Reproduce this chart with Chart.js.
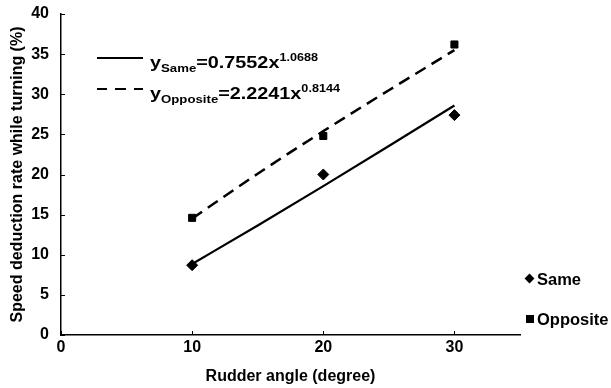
<!DOCTYPE html>
<html>
<head>
<meta charset="utf-8">
<script src="https://cdn.jsdelivr.net/npm/chart.js@4"></script>
<style>
  html,body{margin:0;padding:0;background:#fff;}
  #wrap{position:relative;width:611px;height:388px;font-family:"Liberation Sans",Arial,sans-serif;font-weight:bold;color:#000;}
  canvas{position:absolute;left:0;top:0;}
  .eq{position:absolute;font-size:16.5px;line-height:16px;white-space:nowrap;transform:scale(1.2,1);transform-origin:0 0;}
  .eq sub{font-size:11px;vertical-align:-4px;}
  .eq sup{font-size:10.5px;vertical-align:7px;}
  .ls{position:absolute;width:46px;height:0;}
  .lg{position:absolute;font-size:16.5px;line-height:16px;white-space:nowrap;}
  .mk{position:absolute;background:#000;}
</style>
</head>
<body>
<div id="wrap">
  <canvas id="c" width="611" height="388"></canvas>
  <div class="ls" style="left:97px;top:57px;border-top:2px solid #000;"></div>
  <div class="eq" style="left:150px;top:49px;">y<sub>Same</sub>=0.7552x<sup>1.0688</sup></div>
  <div class="ls" style="left:97px;top:88px;border-top:2px dashed #000;border-image:repeating-linear-gradient(to right,#000 0 11px,transparent 11px 18px) 1;"></div>
  <div class="eq" style="left:150px;top:80px;">y<sub>Opposite</sub>=2.2241x<sup>0.8144</sup></div>
  <div class="mk" style="left:526px;top:275px;width:7px;height:7px;transform:rotate(45deg);"></div>
  <div class="lg" style="left:537px;top:271px;">Same</div>
  <div class="mk" style="left:526px;top:315px;width:8px;height:8px;"></div>
  <div class="lg" style="left:537px;top:311px;">Opposite</div>
</div>
<script>
const rudderAngle = [10, 20, 30];
const sameValues = [8.7, 20.0, 27.4];
const oppositeValues = [14.6, 24.8, 36.2];
const fitX = [10, 15, 20, 25, 30];
const sameFit = [8.85, 13.65, 18.55, 23.55, 28.6];
const oppositeFit = [14.5, 20.1, 25.4, 30.5, 35.5];
const xTicks = [0, 10, 20, 30];
const yTicks = [0, 5, 10, 15, 20, 25, 30, 35, 40];

const pts = (xs, ys) => xs.map((x, i) => ({x: x, y: ys[i]}));
const font = {family: '"Liberation Sans", Arial, sans-serif', weight: 'bold', size: 16};

const innerTicks = {
  id: 'innerTicks',
  afterDraw(chart) {
    const ctx = chart.ctx, xs = chart.scales.x, ys = chart.scales.y;
    ctx.save();
    ctx.strokeStyle = '#000';
    ctx.lineWidth = 1;
    xTicks.forEach(v => {
      const px = Math.round(xs.getPixelForValue(v)) + 0.5;
      ctx.beginPath(); ctx.moveTo(px, ys.bottom); ctx.lineTo(px, ys.bottom - 4); ctx.stroke();
    });
    yTicks.forEach(v => {
      const py = Math.round(ys.getPixelForValue(v)) + 0.5;
      ctx.beginPath(); ctx.moveTo(xs.left, py); ctx.lineTo(xs.left + 4, py); ctx.stroke();
    });
    ctx.restore();
  }
};

new Chart(document.getElementById('c'), {
  type: 'scatter',
  data: {
    datasets: [
      {label: 'Same', data: pts(rudderAngle, sameValues), pointStyle: 'rectRot', pointRadius: 5.5, backgroundColor: '#000', borderColor: '#000', showLine: false},
      {label: 'Opposite', data: pts(rudderAngle, oppositeValues), pointStyle: 'rect', pointRadius: 5, backgroundColor: '#000', borderColor: '#000', showLine: false},
      {label: 'Same fit', data: pts(fitX, sameFit), showLine: true, pointRadius: 0, borderColor: '#000', borderWidth: 2.2, cubicInterpolationMode: 'monotone'},
      {label: 'Opposite fit', data: pts(fitX, oppositeFit), showLine: true, pointRadius: 0, borderColor: '#000', borderWidth: 2.5, borderDash: [12, 7], cubicInterpolationMode: 'monotone'}
    ]
  },
  options: {
    responsive: false,
    animation: false,
    layout: {padding: {top: 14, right: 91, left: 0, bottom: 0}},
    plugins: {legend: {display: false}, tooltip: {enabled: false}},
    scales: {
      x: {
        type: 'linear', min: 0, max: 35,
        afterBuildTicks: s => { s.ticks = xTicks.map(v => ({value: v})); },
        afterFit: s => { s.height = 53; s.paddingLeft = 0; s.paddingRight = 0; },
        grid: {display: false, drawTicks: false},
        border: {display: true, color: '#000', width: 1.5},
        ticks: {color: '#000', font: font, padding: 3},
        title: {display: true, text: 'Rudder angle (degree)', color: '#000', font: font, padding: {top: 2, bottom: 2}}
      },
      y: {
        type: 'linear', min: 0, max: 40,
        afterBuildTicks: s => { s.ticks = yTicks.map(v => ({value: v})); },
        afterFit: s => { s.width = 61; s.paddingTop = 0; s.paddingBottom = 0; },
        grid: {display: false, drawTicks: false},
        border: {display: true, color: '#000', width: 1.5},
        ticks: {color: '#000', font: font, padding: 12},
        title: {display: true, text: 'Speed deduction rate while turning (%)', color: '#000', font: font, padding: {top: 8, bottom: 0}}
      }
    }
  },
  plugins: [innerTicks]
});
</script>
</body>
</html>
